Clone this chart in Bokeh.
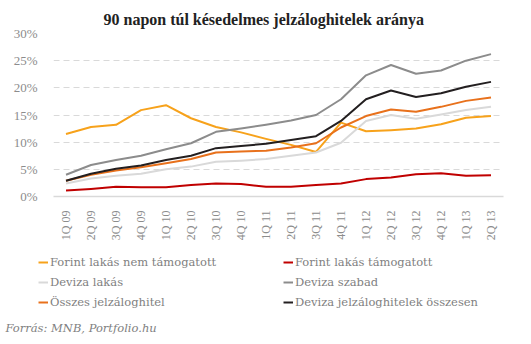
import math
from bokeh.plotting import figure
from bokeh.layouts import column, row
from bokeh.models import FactorRange, Range1d, PrintfTickFormatter, FixedTicker, Legend, LegendItem, Label
from bokeh.embed import file_html
from bokeh.resources import INLINE

quarters = ["1Q 09", "2Q 09", "3Q 09", "4Q 09", "1Q 10", "2Q 10", "3Q 10", "4Q 10", "1Q 11",
            "2Q 11", "3Q 11", "4Q 11", "1Q 12", "2Q 12", "3Q 12", "4Q 12", "1Q 13", "2Q 13"]

forint_nem_tamogatott = [11.5, 12.8, 13.2, 15.9, 16.8, 14.4, 12.8, 11.8, 10.6, 9.5, 8.2, 13.6, 12.0, 12.2, 12.5, 13.3, 14.5, 14.8]
forint_tamogatott = [1.1, 1.4, 1.8, 1.7, 1.7, 2.1, 2.4, 2.3, 1.8, 1.8, 2.1, 2.4, 3.2, 3.5, 4.1, 4.3, 3.8, 3.9]
deviza_lakas = [2.4, 3.3, 3.8, 4.2, 5.0, 5.5, 6.4, 6.6, 6.9, 7.5, 8.1, 9.9, 13.9, 15.0, 14.3, 15.1, 15.9, 16.5]
deviza_szabad = [4.0, 5.8, 6.7, 7.5, 8.7, 9.8, 11.9, 12.5, 13.2, 14.0, 15.0, 17.9, 22.3, 24.2, 22.6, 23.2, 25.0, 26.2]
osszes = [2.9, 4.0, 4.8, 5.4, 6.1, 6.9, 8.1, 8.3, 8.4, 9.0, 9.8, 12.7, 14.8, 16.0, 15.6, 16.5, 17.6, 18.2]
deviza_osszesen = [2.9, 4.2, 5.1, 5.7, 6.7, 7.5, 8.9, 9.3, 9.7, 10.4, 11.1, 13.9, 17.9, 19.5, 18.3, 19.0, 20.2, 21.1]

y_ticks = [0, 5, 10, 15, 20, 25, 30]

series = [
    ("Forint lakás nem támogatott", forint_nem_tamogatott, "#F7A21B"),
    ("Forint lakás támogatott", forint_tamogatott, "#C00000"),
    ("Deviza lakás", deviza_lakas, "#D9D9D9"),
    ("Deviza szabad", deviza_szabad, "#8C8C8C"),
    ("Összes jelzáloghitel", osszes, "#E8711C"),
    ("Deviza jelzáloghitelek összesen", deviza_osszesen, "#231F20"),
]

FONT = "Liberation Serif"
TFONT = "DejaVu Serif"

p = figure(width=531, height=250, x_range=FactorRange(*quarters), y_range=Range1d(0, 30),
           output_backend="svg", toolbar_location=None,
           min_border_left=53, min_border_right=28, min_border_top=33, min_border_bottom=54)
p.outline_line_color = None

p.title.text = "90 napon túl késedelmes  jelzáloghitelek aránya"
p.title.align = "left"
p.title.offset = 50
p.title.text_font = FONT
p.title.text_font_size = "16px"
p.title.text_font_style = "bold"
p.title.text_color = "#222222"
p.title.standoff = 12

for name, vals, col in series:
    p.line(quarters, vals, line_color=col, line_width=2, line_join="round")

p.yaxis.ticker = FixedTicker(ticks=y_ticks)
p.yaxis.formatter = PrintfTickFormatter(format="%d%%")
p.yaxis.axis_line_color = None
p.yaxis.major_tick_line_color = None
p.yaxis.minor_tick_line_color = None
p.yaxis.major_label_standoff = 10
p.yaxis.major_label_text_font = FONT
p.yaxis.major_label_text_font_size = "13px"
p.yaxis.major_label_text_color = "#8C8C8C"

p.xaxis.axis_line_color = "#D9D9D9"
p.xaxis.axis_line_width = 1.5
p.xaxis.major_tick_line_color = None
p.xaxis.minor_tick_line_color = None
p.xaxis.major_label_orientation = math.pi / 2
p.xaxis.major_label_standoff = 8
p.xaxis.major_label_text_font = FONT
p.xaxis.major_label_text_font_size = "12px"
p.xaxis.major_label_text_color = "#8C8C8C"

p.xgrid.grid_line_color = None
p.ygrid.grid_line_color = "#D9D9D9"
p.ygrid.grid_line_dash = "6 4"
p.ygrid.grid_line_width = 1

# legend / source area: same series, drawn outside this panel's visible y range
p2 = figure(width=531, height=94, x_range=FactorRange(*quarters), y_range=Range1d(100, 130),
            output_backend="svg", toolbar_location=None, title=None,
            x_axis_location=None, y_axis_location=None,
            min_border=0, min_border_left=0, min_border_right=0, min_border_top=0, min_border_bottom=0)
p2.grid.visible = False
p2.outline_line_color = None

leg_r = {}
for name, vals, col in series:
    leg_r[name] = p2.line(quarters, vals, line_color=col, line_width=2)

def make_legend(names, loc):
    lg = Legend(items=[LegendItem(label=n, renderers=[leg_r[n]]) for n in names],
                location=loc, orientation="vertical")
    lg.border_line_color = None
    lg.background_fill_alpha = 0
    lg.padding = 0
    lg.margin = 0
    lg.spacing = 0
    lg.glyph_width = 10
    lg.glyph_height = 20
    lg.label_height = 20
    lg.label_standoff = 2
    lg.label_text_font = TFONT
    lg.label_text_font_size = "11.5px"
    lg.label_text_color = "#7F7F7F"
    return lg

p2.add_layout(make_legend([series[0][0], series[2][0], series[4][0]], (38, 32)), "center")
p2.add_layout(make_legend([series[1][0], series[3][0], series[5][0]], (283, 32)), "center")

src = Label(x=5, y=10, x_units="screen", y_units="screen", text="Forrás: MNB, Portfolio.hu",
            text_font=TFONT, text_font_size="11.5px", text_font_style="italic", text_color="#7F7F7F")
p2.add_layout(src)

layout = column(p, row(p2), spacing=0)
open("out.html", "w").write(file_html(layout, INLINE))
